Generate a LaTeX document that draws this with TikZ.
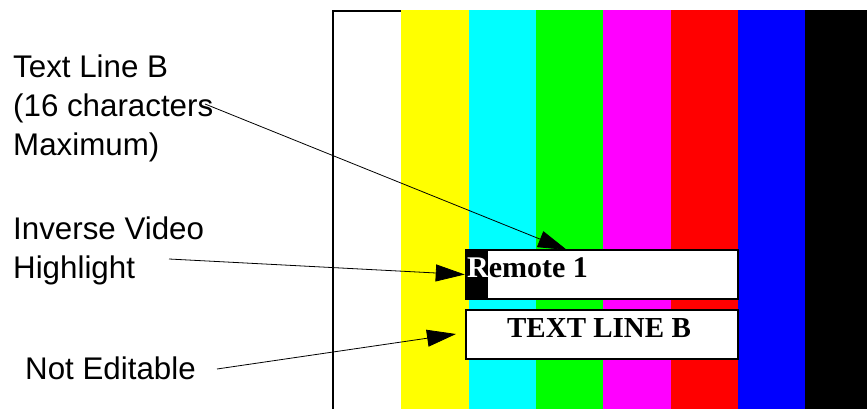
\documentclass[tikz,border=0pt]{standalone}
\usepackage{fontspec}
\setmainfont{Liberation Sans}
\newfontfamily\serifb{Liberation Serif}
\usetikzlibrary{arrows.meta}
\definecolor{barY}{RGB}{255,255,0}
\definecolor{barC}{RGB}{0,255,255}
\definecolor{barG}{RGB}{0,255,0}
\definecolor{barM}{RGB}{255,0,255}
\definecolor{barR}{RGB}{255,0,0}
\definecolor{barB}{RGB}{0,0,255}
\definecolor{barK}{RGB}{0,0,0}
\begin{document}
\begin{tikzpicture}[x=1pt,y=-1pt,
  lbl/.style={anchor=base west, inner sep=0pt, font=\fontsize{31.3}{39}\selectfont},
  ptr/.style={draw=black, line width=0.8pt, -{Triangle[length=29pt,width=17pt]}},
  boxst/.style={draw=black, fill=white, line width=2.5pt, inner sep=0pt, minimum width=272pt, minimum height=49pt},
  boxtxt/.style={inner sep=0pt, font=\serifb\bfseries\fontsize{29}{30}\selectfont}]
\useasboundingbox (0,0) rectangle (867,409);
% colour bars
\fill[barY] (401,10) rectangle (469,409);
\fill[barC] (469,10) rectangle (536,409);
\fill[barG] (536,10) rectangle (603,409);
\fill[barM] (603,10) rectangle (671,409);
\fill[barR] (671,10) rectangle (738,409);
\fill[barB] (738,10) rectangle (805,409);
\fill[barK] (805,10) rectangle (867,409);
% frame of white bar
\draw[line width=2pt] (333,409) -- (333,11) -- (401,11);
% boxes
\node[boxst] (box1) at (602,274.5) {};
\node[boxst] (box2) at (602,334.5) {};
\fill[black] (466,250) rectangle (488,299);
\node[boxtxt, anchor=base west, font=\serifb\bfseries\fontsize{30}{30}\selectfont] (rem) at (467,277) {\textcolor{white}{R}emote 1};
\node[boxtxt, anchor=base] (tlb) at (599,337) {TEXT LINE B};
% labels
\node[lbl] (l1a) at (13,78) {Text Line B};
\node[lbl] (l1b) at (13,117) {(16 characters};
\node[lbl] (l1c) at (13,156) {Maximum)};
\node[lbl] (l2a) at (13,239) {Inverse Video};
\node[lbl] (l2b) at (13,278) {Highlight};
\node[lbl] (l3) at (25,379) {Not Editable};
% connectors
\coordinate (a1s) at (205,104);
\coordinate (a1e) at (567,250);
\coordinate (a2s) at (169,259);
\coordinate (a3s) at (217,369);
\coordinate (a3e) at (456,334);
\draw[ptr] (a1s) -- (a1e);
\draw[ptr] (a2s) -- (box1.west);
\draw[ptr] (a3s) -- (a3e);
\end{tikzpicture}
\end{document}
